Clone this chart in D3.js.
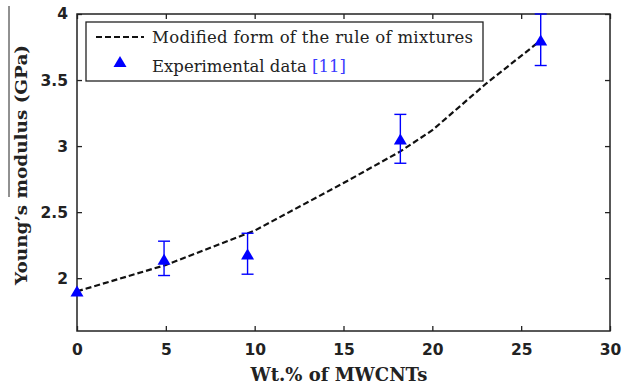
<!DOCTYPE html>
<html>
<head>
<meta charset="utf-8">
<script src="https://cdn.jsdelivr.net/npm/d3@7"></script>
<style>
  body { margin: 0; background: #fff; }
  .tick text { font-family: "DejaVu Sans", sans-serif; font-weight: bold; font-size: 15.5px; fill: #222; }
  .label { font-family: "DejaVu Serif", serif; font-weight: bold; fill: #222; }
  .legend text { font-family: "DejaVu Serif", serif; font-size: 16.5px; fill: #222; }
</style>
</head>
<body>
<svg id="chart" width="622" height="391"></svg>
<script>
// rule of mixtures curve
var modelX = [0, 5, 10, 15, 18.2, 20, 23, 26.1];
var modelY = [1.9, 2.1, 2.36, 2.72, 2.96, 3.12, 3.47, 3.8];

// experimental data [11]
var expX = [0, 4.9, 9.6, 18.2, 26.1];
var expY = [1.9, 2.14, 2.18, 3.05, 3.8];
var expLo = [1.9, 2.02, 2.03, 2.87, 3.61];
var expHi = [1.9, 2.28, 2.34, 3.24, 4.0];

var xTicks = [0, 5, 10, 15, 20, 25, 30];
var yTicks = [2, 2.5, 3, 3.5, 4];

var frame = { left: 77, right: 610, top: 14, bottom: 331 };
var svg = d3.select('#chart');

var x = d3.scaleLinear().domain([0, 30]).range([frame.left, frame.right]);
var y = d3.scaleLinear().domain([1.6, 4]).range([frame.bottom, frame.top]);

// stray scan line at far left
svg.append('line').attr('x1', 9).attr('x2', 9).attr('y1', 6).attr('y2', 197)
  .attr('stroke', '#222').attr('stroke-width', 1);

var tk = 5;
svg.append('g').attr('transform', 'translate(0,' + frame.bottom + ')')
  .call(d3.axisBottom(x).tickValues(xTicks).tickSize(-tk).tickPadding(13).tickFormat(d3.format('d')))
  .call(g => g.select('.domain').remove());
svg.append('g').attr('transform', 'translate(0,' + frame.top + ')')
  .call(d3.axisTop(x).tickValues(xTicks).tickSize(-tk).tickFormat(''))
  .call(g => g.select('.domain').remove());
svg.append('g').attr('transform', 'translate(' + frame.left + ',0)')
  .call(d3.axisLeft(y).tickValues(yTicks).tickSize(-tk).tickPadding(9).tickFormat(d => d))
  .call(g => g.select('.domain').remove());
svg.append('g').attr('transform', 'translate(' + frame.right + ',0)')
  .call(d3.axisRight(y).tickValues(yTicks).tickSize(-tk).tickFormat(''))
  .call(g => g.select('.domain').remove());
svg.selectAll('.tick line').attr('stroke', '#222').attr('stroke-width', 1.3);

svg.append('rect').attr('x', frame.left).attr('y', frame.top)
  .attr('width', frame.right - frame.left).attr('height', frame.bottom - frame.top)
  .attr('fill', 'none').attr('stroke', '#222').attr('stroke-width', 1.5);

// model curve
var line = d3.line().x(d => x(d[0])).y(d => y(d[1]));
svg.append('path').datum(d3.zip(modelX, modelY))
  .attr('d', line).attr('fill', 'none').attr('stroke', '#111')
  .attr('stroke-width', 2.2).attr('stroke-dasharray', '6,3');

// error bars + triangles
var pts = expX.map((v, i) => ({ x: v, y: expY[i], lo: expLo[i], hi: expHi[i] }));
var blue = '#0000ff';
var eb = svg.append('g').attr('stroke', blue).attr('stroke-width', 1.4);
pts.filter(d => d.hi > d.lo).forEach(d => {
  eb.append('line').attr('x1', x(d.x)).attr('x2', x(d.x)).attr('y1', y(d.lo)).attr('y2', y(d.hi));
  eb.append('line').attr('x1', x(d.x) - 6).attr('x2', x(d.x) + 6).attr('y1', y(d.lo)).attr('y2', y(d.lo));
  eb.append('line').attr('x1', x(d.x) - 6).attr('x2', x(d.x) + 6).attr('y1', y(d.hi)).attr('y2', y(d.hi));
});
var tri = 'M0,-6L6.5,5L-6.5,5Z';
svg.append('g').selectAll('path').data(pts).join('path')
  .attr('transform', d => 'translate(' + x(d.x) + ',' + y(d.y) + ')')
  .attr('d', tri).attr('fill', blue);

// legend
var lg = svg.append('g').attr('class', 'legend');
lg.append('rect').attr('x', 86).attr('y', 22).attr('width', 397).attr('height', 59)
  .attr('fill', '#fff').attr('stroke', '#222').attr('stroke-width', 1.3);
lg.append('line').attr('x1', 96).attr('x2', 144).attr('y1', 37).attr('y2', 37)
  .attr('stroke', '#111').attr('stroke-width', 2).attr('stroke-dasharray', '6,3');
lg.append('text').attr('x', 152).attr('y', 43).attr('textLength', 321)
  .text('Modified form of the rule of mixtures');
lg.append('path').attr('transform', 'translate(120,62)').attr('d', tri).attr('fill', blue);
var t2 = lg.append('text').attr('x', 152).attr('y', 72);
t2.append('tspan').text('Experimental data ');
t2.append('tspan').attr('fill', '#3a3aff').text('[11]');

// axis titles
svg.append('text').attr('class', 'label').attr('x', 339).attr('y', 381)
  .attr('font-size', 18).attr('text-anchor', 'middle').text('Wt.% of MWCNTs');
svg.append('text').attr('class', 'label').attr('font-size', 17)
  .attr('transform', 'translate(27,165) rotate(-90)')
  .attr('text-anchor', 'middle').attr('textLength', 240).attr('lengthAdjust', 'spacingAndGlyphs')
  .text('Young\u2019s modulus (GPa)');
</script>
</body>
</html>
